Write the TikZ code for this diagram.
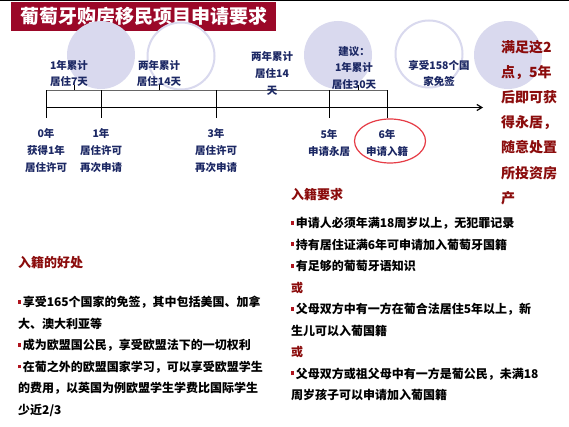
\documentclass[tikz,border=0pt]{standalone}
\usepackage{fontspec}
\setmainfont{Noto Sans CJK SC}
\usetikzlibrary{arrows.meta,shapes.geometric}
\definecolor{navy}{RGB}{28,40,100}
\definecolor{dred}{RGB}{139,12,12}
\definecolor{banner}{RGB}{155,8,40}
\definecolor{lav}{RGB}{217,217,238}
\definecolor{ellred}{RGB}{230,60,70}
\definecolor{bulred}{RGB}{175,20,30}
\newcommand{\bul}{{\color{bulred}\rule[3pt]{2.6pt}{3.6pt}}\hspace{2pt}}
\tikzset{
  fcirc/.style={circle, fill=lav, minimum size=68pt, inner sep=0pt},
  ocirc/.style={circle, draw=lav, line width=2pt, fill=white, minimum size=67pt, inner sep=0pt},
  toplab/.style={inner sep=0pt, align=center, text=navy, font=\bfseries\fontsize{10.5}{16.8}\selectfont},
  botlab/.style={inner sep=0pt, align=center, text=navy, font=\bfseries\fontsize{10.5}{17}\selectfont},
  tick/.style={black, line width=0.9pt},
  head/.style={inner sep=0pt, anchor=west, text=dred, font=\bfseries\fontsize{13}{15}\selectfont},
  body/.style={inner sep=0pt, anchor=west, align=left, text=black, font=\bfseries\fontsize{12}{21.5}\selectfont}
}
\begin{document}
\begin{tikzpicture}[x=1pt,y=-1pt]
\useasboundingbox (0,0) rectangle (569,427);
\fill[white] (0,0) rectangle (569,427);
% top rule and banner
\draw[black, line width=1.5pt] (0,0.75) -- (569,0.75);
\node[fill=banner, minimum width=265pt, minimum height=29pt, inner sep=0pt, anchor=north west] (banner) at (11,1.5) {};
\node[text=white, font=\bfseries\fontsize{19}{22}\selectfont, inner sep=0pt] (title) at (banner.center) {葡萄牙购房移民项目申请要求};
% circles
\node[fcirc] (c1) at (101,55) {};
\node[ocirc] (c2) at (181,56) {};
\node[fcirc] (c3) at (338,55) {};
\node[ocirc] (c4) at (429,54) {};
\node[fcirc] (c5) at (508,55) {};
% timeline
\coordinate (bl) at (46,90.5);
\coordinate (br) at (387,90.5);
\coordinate (al) at (46,107.5);
\coordinate (ar) at (483,107.5);
\draw[gray!80!black, line width=1.6pt] (bl) -- (br);
\draw[black, line width=1.2pt, -{Straight Barb[length=5pt,width=6pt]}] (al) -- (ar);
\foreach \x/\n in {46/k0,101/k1,216/k3,329/k5,387/k6}{
  \coordinate (\n) at (\x,90.5);
  \draw[tick] (\n) -- ++(0,28);
}
\foreach \x/\n in {74/u1,159/u2,358/u3}{
  \coordinate (\n) at (\x,90.5);
  \draw[tick] (\n) -- ++(0,-5);
}
% labels above
\node[toplab] (a1) at (69,73.5) {1年累计\\居住7天};
\node[toplab] (a2) at (159,73.5) {两年累计\\居住14天};
\node[toplab] (a3) at (272,73.5) {两年累计\\居住14\\天};
\node[toplab] (a4) at (354,68) {建议：\\1年累计\\居住30天};
\node[toplab] (a5) at (439,73.5) {享受158个国\\家免签};
% labels below
\node[botlab] (b0) at (46,151) {0年\\获得1年\\居住许可};
\node[botlab] (b1) at (101,151) {1年\\居住许可\\再次申请};
\node[botlab] (b3) at (216,151) {3年\\居住许可\\再次申请};
\node[botlab] (b5) at (329,143.5) {5年\\申请永居};
\node[botlab] (b6) at (387,143.5) {6年\\申请入籍};
\node[ellipse, draw=ellred, line width=1.2pt, minimum width=71pt, minimum height=44pt, inner sep=0pt] (ring) at (390,141) {};
% right red text
\node[inner sep=0pt, anchor=west, align=left, text=dred, font=\bfseries\fontsize{14}{25.2}\selectfont] (res) at (501,122.5) {满足这2\\点，5年\\后即可获\\得永居，\\随意处置\\所投资房\\产};
% bottom left
\node[head] (h1) at (18,263) {入籍的好处};
\node[body] (t1) at (18,356.5) {\bul{}享受165个国家的免签，其中包括美国、加拿\\大、澳大利亚等\\\bul{}成为欧盟国公民，享受欧盟法下的一切权利\\\bul{}在葡之外的欧盟国家学习，可以享受欧盟学生\\的费用，以英国为例欧盟学生学费比国际学生\\少近2/3};
% bottom right
\node[head] (h2) at (291,195) {入籍要求};
\node[body] (t2) at (291,309) {\bul{}申请人必须年满18周岁以上，无犯罪记录\\\bul{}持有居住证满6年可申请加入葡萄牙国籍\\\bul{}有足够的葡萄牙语知识\\{\color{dred}或}\\\bul{}父母双方中有一方在葡合法居住5年以上，新\\生儿可以入葡国籍\\{\color{dred}或}\\\bul{}父母双方或祖父母中有一方是葡公民，未满18\\周岁孩子可以申请加入葡国籍};
\end{tikzpicture}
\end{document}
